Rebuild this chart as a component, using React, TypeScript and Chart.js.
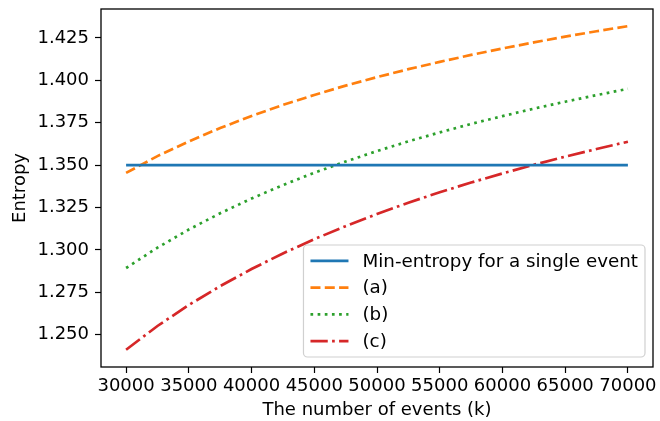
import React, { useEffect, useRef } from "react";
import { Chart, registerables } from "chart.js";
Chart.register(...registerables);

const events = [30000, 32500, 35000, 37500, 40000, 42500, 45000, 47500, 50000, 52500, 55000, 57500, 60000, 62500, 65000, 67500, 70000];
const minEntropyX = [30000, 70000];
const minEntropy = [1.35, 1.35];
const seriesA = [1.3454, 1.3553, 1.364, 1.3719, 1.379, 1.3855, 1.3914, 1.3969, 1.4019, 1.4066, 1.4109, 1.415, 1.4188, 1.4224, 1.4258, 1.429, 1.432];
const seriesB = [1.2893, 1.3013, 1.312, 1.3216, 1.3303, 1.3382, 1.3455, 1.3521, 1.3583, 1.364, 1.3693, 1.3743, 1.3789, 1.3833, 1.3874, 1.3913, 1.395];
const seriesC = [1.2411, 1.2551, 1.2675, 1.2786, 1.2887, 1.2979, 1.3063, 1.314, 1.3212, 1.3278, 1.334, 1.3397, 1.3451, 1.3502, 1.355, 1.3595, 1.3638];
const xTicks = [30000, 35000, 40000, 45000, 50000, 55000, 60000, 65000, 70000];
const yTicks = [1.25, 1.275, 1.3, 1.325, 1.35, 1.375, 1.4, 1.425];
const seriesLabels = ["Min-entropy for a single event", "(a)", "(b)", "(c)"];
const xTitle = "The number of events (k)";
const yTitle = "Entropy";

const FONT = '"DejaVu Sans", sans-serif';
const FS = 18;
const LEGEND_FS = 18.3;

const framePlugin = {
  id: "mplFrame",
  afterDraw(chart: any) {
    const { ctx, chartArea: ca } = chart;
    ctx.save();
    ctx.strokeStyle = "#000";
    ctx.lineWidth = 1.3;
    ctx.strokeRect(ca.left, ca.top, ca.right - ca.left, ca.bottom - ca.top);
    ctx.restore();

    // legend
    const ds = chart.data.datasets;
    ctx.save();
    ctx.font = `${LEGEND_FS}px ${FONT}`;
    let maxW = 0;
    ds.forEach((d: any) => (maxW = Math.max(maxW, ctx.measureText(d.label).width)));
    const handleLen = 38, lpad = 7, gap = 14, rpad = 7, rowH = 26.7, vpad = 2.6;
    const w = lpad + handleLen + gap + maxW + rpad;
    const h = ds.length * rowH + 2 * vpad;
    const right = ca.right - 8;
    const bottom = ca.bottom - 10;
    const left = right - w;
    const top = bottom - h;
    ctx.beginPath();
    (ctx as any).roundRect(left, top, w, h, 4);
    ctx.fillStyle = "rgba(255,255,255,0.8)";
    ctx.fill();
    ctx.strokeStyle = "#d0d0d0";
    ctx.lineWidth = 1.2;
    ctx.stroke();
    ds.forEach((d: any, i: number) => {
      const y = top + vpad + rowH * (i + 0.5);
      ctx.beginPath();
      ctx.setLineDash(d.borderDash || []);
      ctx.lineCap = "butt";
      ctx.strokeStyle = d.borderColor;
      ctx.lineWidth = d.borderWidth;
      ctx.moveTo(left + lpad, y);
      ctx.lineTo(left + lpad + handleLen, y);
      ctx.stroke();
      ctx.setLineDash([]);
      ctx.fillStyle = "#000";
      ctx.textBaseline = "middle";
      ctx.textAlign = "left";
      ctx.fillText(d.label, left + lpad + handleLen + gap, y + 1);
    });
    ctx.restore();
  },
};

export default function App() {
  const ref = useRef<HTMLCanvasElement>(null);
  useEffect(() => {
    const toPts = (xs: number[], ys: number[]) => xs.map((x, i) => ({ x, y: ys[i] }));
    const chart = new Chart(ref.current as HTMLCanvasElement, {
      type: "line",
      data: {
        datasets: [
          { label: seriesLabels[0], data: toPts(minEntropyX, minEntropy), borderColor: "#1f77b4", borderWidth: 2.7, pointRadius: 0, tension: 0 },
          { label: seriesLabels[1], data: toPts(events, seriesA), borderColor: "#ff7f0e", borderWidth: 2.7, borderDash: [10, 4.3], pointRadius: 0, tension: 0 },
          { label: seriesLabels[2], data: toPts(events, seriesB), borderColor: "#2ca02c", borderWidth: 2.7, borderDash: [2.7, 4.45], pointRadius: 0, tension: 0 },
          { label: seriesLabels[3], data: toPts(events, seriesC), borderColor: "#d62728", borderWidth: 2.7, borderDash: [17.3, 4.3, 2.7, 4.3], pointRadius: 0, tension: 0 },
        ] as any,
      },
      options: {
        responsive: false,
        maintainAspectRatio: false,
        animation: false,
        layout: { padding: { left: 0, top: 9, right: 7, bottom: 0 } },
        plugins: { legend: { display: false }, tooltip: { enabled: false } },
        scales: {
          x: {
            type: "linear",
            min: 28000,
            max: 72000,
            afterBuildTicks: (s: any) => { s.ticks = xTicks.map((v) => ({ value: v })); },
            afterFit: (s: any) => { s.height = 54; s.paddingLeft = 0; s.paddingRight = 0; },
            ticks: { color: "#000", font: { family: FONT, size: FS }, padding: 3, maxRotation: 0, autoSkip: false, callback: (v: any) => String(v) },
            grid: { display: true, drawOnChartArea: false, drawTicks: true, tickLength: 6, tickColor: "#000", tickWidth: 1.2 },
            border: { display: false },
            title: { display: true, text: xTitle, color: "#000", font: { family: FONT, size: FS }, padding: { top: 0, bottom: 0 } },
          },
          y: {
            type: "linear",
            min: 1.2309,
            max: 1.4421,
            afterBuildTicks: (s: any) => { s.ticks = yTicks.map((v) => ({ value: v })); },
            afterFit: (s: any) => { s.width = 101; s.paddingTop = 0; s.paddingBottom = 0; },
            ticks: { color: "#000", font: { family: FONT, size: FS }, padding: 6, autoSkip: false, callback: (v: any) => Number(v).toFixed(3) },
            grid: { display: true, drawOnChartArea: false, drawTicks: true, tickLength: 6, tickColor: "#000", tickWidth: 1.2 },
            border: { display: false },
            title: { display: true, text: yTitle, color: "#000", font: { family: FONT, size: FS }, padding: { top: 10, bottom: 0 } },
          },
        },
      },
      plugins: [framePlugin],
    } as any);
    return () => chart.destroy();
  }, []);
  return (
    <div style={{ position: "fixed", left: 0, top: 0, width: 660, height: 421, background: "#fff" }}>
      <canvas ref={ref} width={660} height={421} style={{ display: "block" }} />
    </div>
  );
}
